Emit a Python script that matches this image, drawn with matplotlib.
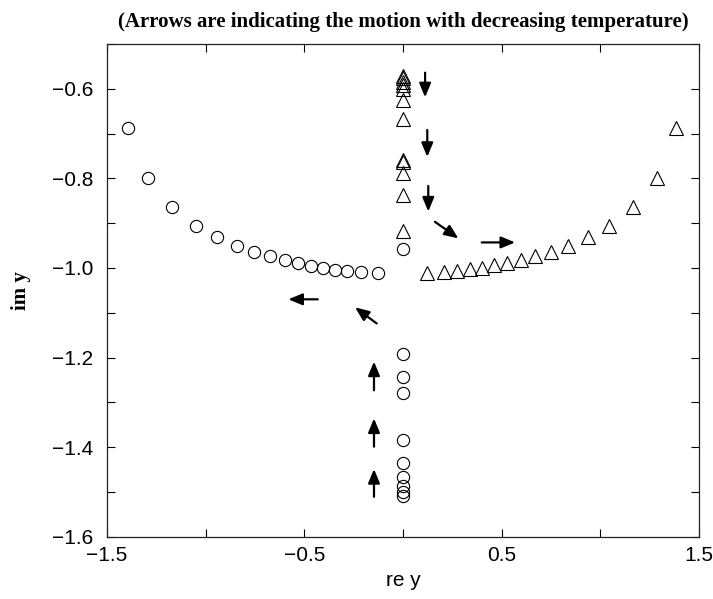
import matplotlib
matplotlib.use("Agg")
import matplotlib.pyplot as plt

# ---- data ----
circ_branch_x = [-1.392, -1.291, -1.169, -1.049, -0.941, -0.843, -0.756, -0.675,
                 -0.599, -0.532, -0.468, -0.405, -0.343, -0.282, -0.213, -0.128]
circ_branch_y = [-0.688, -0.800, -0.865, -0.906, -0.931, -0.950, -0.964, -0.974,
                 -0.983, -0.989, -0.995, -0.999, -1.004, -1.007, -1.009, -1.011]
circ_axis_x = [0.0] * 10
circ_axis_y = [-0.958, -1.193, -1.243, -1.280, -1.384, -1.436, -1.466, -1.487, -1.500, -1.510]

tri_branch_x = [0.120, 0.208, 0.275, 0.340, 0.402, 0.463, 0.529, 0.597,
                0.671, 0.750, 0.837, 0.936, 1.044, 1.164, 1.286, 1.385]
tri_branch_y = [-1.012, -1.010, -1.007, -1.003, -0.999, -0.994, -0.989, -0.983,
                -0.974, -0.964, -0.950, -0.932, -0.906, -0.865, -0.800, -0.688]
tri_axis_x = [0.0] * 12
tri_axis_y = [-0.572, -0.577, -0.584, -0.592, -0.600, -0.625, -0.668,
              -0.760, -0.763, -0.789, -0.837, -0.917]

# arrows: (x_tail, y_tail, x_head, y_head)
arrows = [
    (0.112, -0.564, 0.112, -0.619),
    (0.123, -0.692, 0.123, -0.752),
    (0.128, -0.817, 0.128, -0.874),
    (0.162, -0.897, 0.281, -0.934),
    (0.399, -0.943, 0.568, -0.943),
    (-0.432, -1.070, -0.581, -1.070),
    (-0.133, -1.124, -0.243, -1.088),
    (-0.147, -1.273, -0.147, -1.209),
    (-0.147, -1.399, -0.147, -1.336),
    (-0.147, -1.511, -0.147, -1.449),
]

x_ticks = [-1.5, -1.0, -0.5, 0.0, 0.5, 1.0, 1.5]
x_ticklabels = ['\u22121.5', '', '\u22120.5', '', '0.5', '', '1.5']
y_ticks = [-1.6, -1.5, -1.4, -1.3, -1.2, -1.1, -1.0, -0.9, -0.8, -0.7, -0.6, -0.5]
y_ticklabels = ['\u22121.6', '', '\u22121.4', '', '\u22121.2', '', '\u22121.0', '',
                '\u22120.8', '', '\u22120.6', '']

title = '(Arrows are indicating the motion with decreasing temperature)'
xlabel = 're y'
ylabel = 'im y'

# ---- figure ----
plt.rcParams['font.family'] = ['Liberation Sans', 'DejaVu Sans']
fig = plt.figure(figsize=(7.13, 5.99), dpi=100)
ax = fig.add_axes([107 / 713, 1 - 536.7 / 599, 592 / 713, 492.7 / 599])

circ_style = dict(linestyle='none', marker='o', markersize=8.8, markerfacecolor='none',
                  markeredgecolor='black', markeredgewidth=0.8)
tri_style = dict(linestyle='none', marker='^', markersize=10, markerfacecolor='none',
                 markeredgecolor='black', markeredgewidth=0.8)

ax.plot(circ_branch_x, circ_branch_y, **circ_style)
ax.plot(circ_axis_x, circ_axis_y, **circ_style)
ax.plot(tri_branch_x, tri_branch_y, **tri_style)
ax.plot(tri_axis_x, tri_axis_y, **tri_style)

for x0, y0, x1, y1 in arrows:
    ax.annotate('', xy=(x1, y1), xytext=(x0, y0),
                arrowprops=dict(arrowstyle='-|>,head_length=0.6,head_width=0.25',
                                color='black', lw=1.6, shrinkA=0, shrinkB=0,
                                mutation_scale=14))

ax.set_xlim(-1.5, 1.5)
ax.set_ylim(-1.6, -0.5)
ax.set_xticks(x_ticks)
ax.set_xticklabels(x_ticklabels)
ax.set_yticks(y_ticks)
ax.set_yticklabels(y_ticklabels)
ax.tick_params(direction='in', length=5.8, width=0.8, top=True, right=True,
               labelsize=15, color='black')
ax.tick_params(axis='y', pad=10)
ax.tick_params(axis='x', pad=7)
for s in ax.spines.values():
    s.set_linewidth(0.9)
    s.set_color('#222222')

ax.set_title(title, fontsize=15, fontweight='bold', family='Liberation Serif', pad=12.5)
ax.set_xlabel(xlabel, fontsize=15)
ax.xaxis.set_label_coords(0.5, -0.07)
ax.set_ylabel(ylabel, fontsize=15, fontweight='bold', family='Liberation Serif')
ax.yaxis.set_label_coords(-0.128, 0.5)

fig.savefig('out.png', dpi=100)
